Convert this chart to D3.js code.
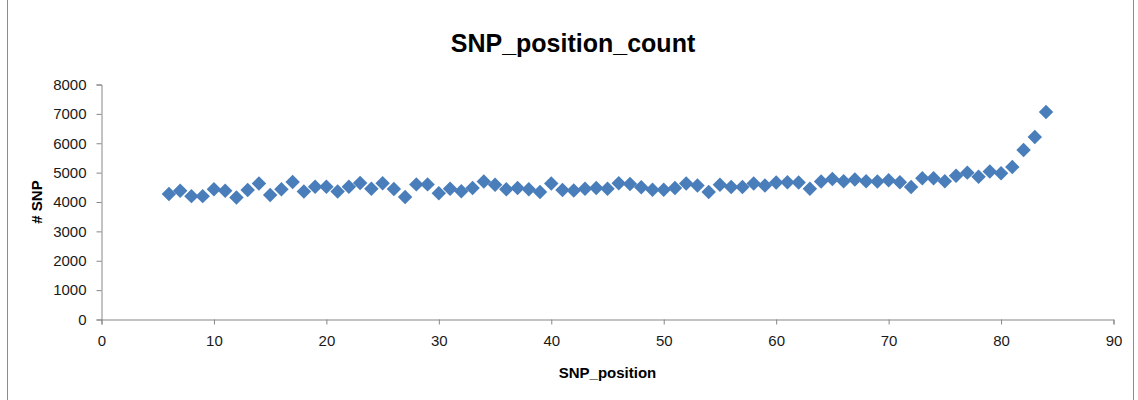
<!DOCTYPE html>
<html>
<head>
<meta charset="utf-8">
<script src="https://cdn.jsdelivr.net/npm/d3@7"></script>
<style>
  html, body { margin: 0; padding: 0; background: #fff; }
  svg { display: block; font-family: "Liberation Sans", Arial, sans-serif; }
</style>
</head>
<body>
<svg id="chart" width="1138" height="400"></svg>
<script>
// SNP counts per read position
const positions = [6,7,8,9,10,11,12,13,14,15,16,17,18,19,20,21,22,23,24,25,26,27,28,29,30,
  31,32,33,34,35,36,37,38,39,40,41,42,43,44,45,46,47,48,49,50,51,52,53,54,55,56,57,58,59,60,
  61,62,63,64,65,66,67,68,69,70,71,72,73,74,75,76,77,78,79,80,81,82,83,84];
const snpCounts = [4270,4380,4200,4200,4430,4380,4150,4410,4630,4240,4430,4680,4360,4520,4520,4360,4520,4650,
  4450,4640,4440,4170,4600,4600,4300,4450,4370,4480,4700,4590,4430,4480,4430,4340,4630,4410,4390,
  4450,4480,4450,4640,4610,4500,4420,4420,4480,4630,4560,4340,4590,4510,4510,4630,4560,4660,4670,
  4660,4450,4700,4780,4710,4770,4710,4700,4740,4670,4510,4810,4810,4710,4890,5000,4860,5040,4980,
  5190,5770,6210,7060];
const xTicks = [0,10,20,30,40,50,60,70,80,90];
const yTicks = [0,1000,2000,3000,4000,5000,6000,7000,8000];

const titleText = "SNP_position_count";
const xTitle = "SNP_position";
const yTitle = "# SNP";

const svg = d3.select("#chart");
const W = 1138, H = 400;

// chart area frame
svg.append("rect")
  .attr("x", 7.5).attr("y", -5)
  .attr("width", 1126).attr("height", H + 10)
  .attr("fill", "#fff")
  .attr("stroke", "#8c8c8c")
  .attr("stroke-width", 1);

const x = d3.scaleLinear().domain([0, 90]).range([101.5, 1113.5]);
const y = d3.scaleLinear().domain([0, 8000]).range([319.5, 84.5]);

const axisColor = "#878787";

// y axis
const gy = svg.append("g")
  .attr("transform", `translate(${x(0)},0)`)
  .call(d3.axisLeft(y).tickValues(yTicks).tickSize(5).tickPadding(10).tickFormat(d3.format("d")));
// x axis
const gx = svg.append("g")
  .attr("transform", `translate(0,${y(0)})`)
  .call(d3.axisBottom(x).tickValues(xTicks).tickSize(5).tickPadding(11).tickFormat(d3.format("d")));

[gx, gy].forEach(g => {
  g.select(".domain").attr("stroke", axisColor);
  g.selectAll(".tick line").attr("stroke", axisColor);
  g.selectAll(".tick text")
    .attr("fill", "#1a1a1a")
    .style("font-size", "15px")
    .style("font-family", "'Liberation Sans Narrow', 'Liberation Sans', Arial, sans-serif");
});

// diamond markers
const diamond = d3.symbol().type(d3.symbolSquare).size(105);
svg.append("g")
  .selectAll("path")
  .data(positions.map((p, i) => ({ p, v: snpCounts[i] })))
  .join("path")
  .attr("d", diamond)
  .attr("transform", d => `translate(${x(d.p)},${y(d.v)}) rotate(45)`)
  .attr("fill", "#4a7ebb");

// titles
svg.append("text")
  .attr("x", 573).attr("y", 52)
  .attr("text-anchor", "middle")
  .style("font-size", "25px")
  .style("font-weight", "bold")
  .attr("fill", "#000")
  .text(titleText);

svg.append("text")
  .attr("x", (x(0) + x(90)) / 2).attr("y", 378)
  .attr("text-anchor", "middle")
  .style("font-size", "15px")
  .style("font-weight", "bold")
  .attr("fill", "#000")
  .text(xTitle);

svg.append("text")
  .attr("transform", `translate(42,${(y(0) + y(8000)) / 2}) rotate(-90)`)
  .attr("text-anchor", "middle")
  .style("font-size", "15px")
  .style("font-weight", "bold")
  .attr("fill", "#000")
  .text(yTitle);
</script>
</body>
</html>
